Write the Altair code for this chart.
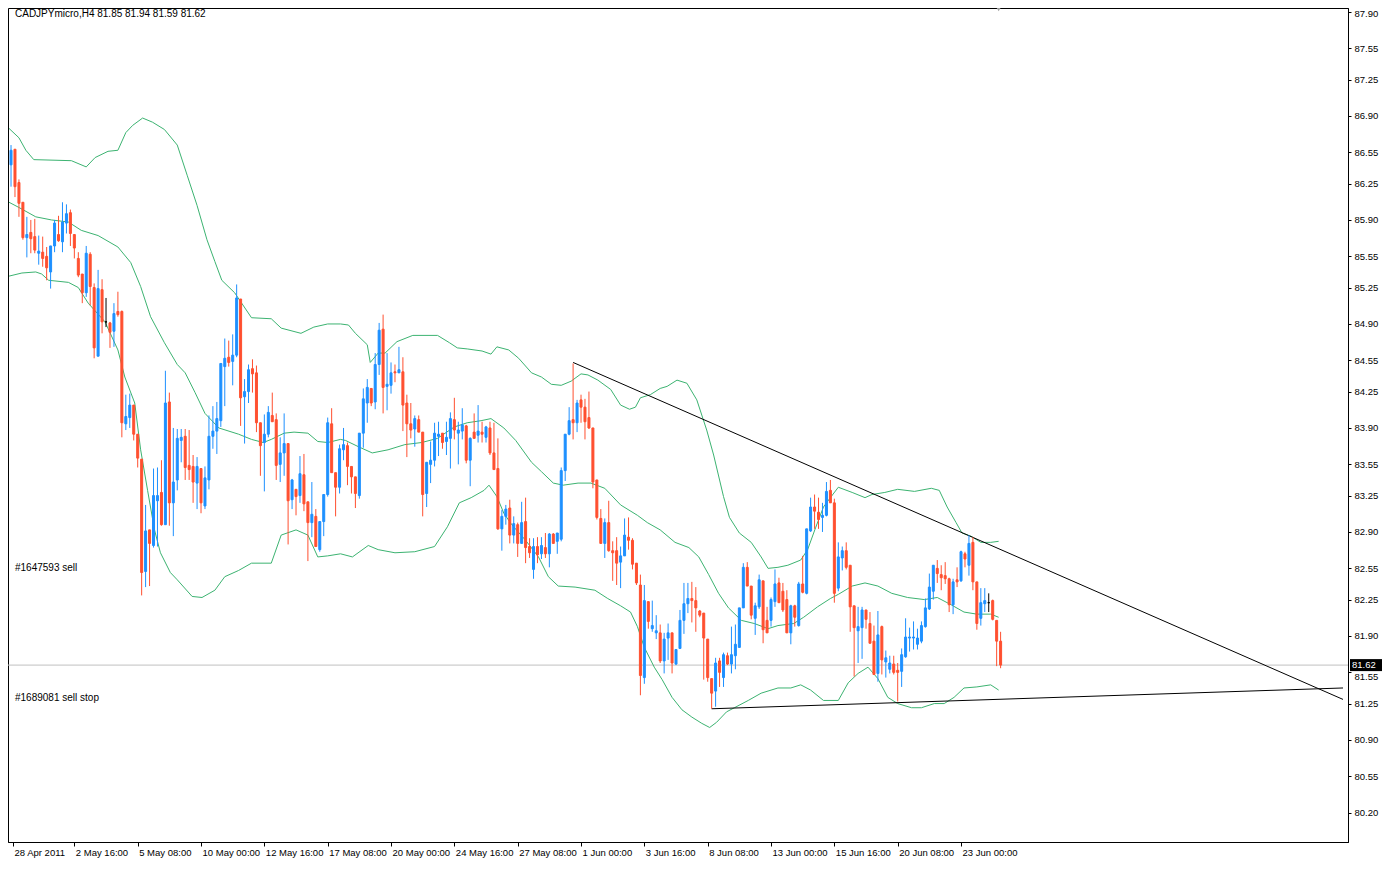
import altair as alt
import pandas as pd

# ---------------- data ----------------
opens = [86.43,86.58,86.26,86.07,85.73,85.78,85.74,85.58,85.59,85.55,
         85.40,85.65,85.76,85.69,85.87,85.97,85.76,85.53,85.38,85.20,
         85.57,85.25,84.59,85.23,84.92,84.91,84.83,85.02,85.02,83.94,
         84.00,84.12,83.84,83.60,82.52,82.92,82.77,83.20,83.28,82.97,
         84.15,83.18,83.40,83.78,83.82,83.54,83.53,83.37,83.51,83.15,
         83.40,83.82,83.87,83.97,84.49,84.58,84.54,84.60,85.14,84.20,
         84.25,84.47,84.43,83.95,83.76,83.84,84.02,83.98,83.55,83.66,
         83.75,83.21,83.31,83.25,83.45,83.19,82.99,83.05,82.73,83.00,
         83.26,83.94,83.47,83.33,83.69,83.73,83.53,83.43,83.25,83.85,
         84.14,84.28,84.15,84.51,84.85,84.30,84.31,84.44,84.43,84.44,
         84.14,83.94,83.89,83.98,83.86,83.27,83.55,83.59,83.82,83.85,
         83.77,83.80,83.98,83.85,83.87,83.92,83.59,83.86,83.83,83.86,
         83.81,83.90,83.66,83.51,82.93,83.05,83.13,82.87,82.97,82.79,
         83.00,82.76,82.54,82.76,82.69,82.75,82.69,82.88,82.81,82.83,
         83.49,83.84,83.98,83.95,84.17,84.10,84.00,83.90,83.40,83.03,
         82.79,82.99,82.72,82.72,82.61,82.67,82.85,82.82,82.60,82.39,
         81.50,82.23,81.97,81.93,81.93,81.66,81.88,81.93,81.63,81.78,
         82.05,82.21,82.26,82.24,82.14,82.12,81.87,81.49,81.37,81.66,
         81.50,81.71,81.63,81.71,81.79,82.17,82.56,82.38,82.07,82.18,
         82.43,82.05,82.05,82.23,82.41,82.33,82.25,81.93,82.19,82.00,
         82.40,82.31,82.91,83.14,83.09,83.04,83.06,83.30,83.18,82.36,
         82.65,82.72,82.58,82.19,81.95,81.98,82.15,82.02,81.85,81.54,
         81.99,81.65,81.58,81.63,81.57,81.56,81.70,81.88,81.88,81.82,
         81.85,81.99,82.16,82.33,82.55,82.49,82.48,82.45,82.20,82.44,
         82.43,82.69,82.58,82.80,82.42,82.07,82.21,82.22,82.24,82.05,
         81.85]
highs = [86.62,86.58,86.29,86.07,85.93,85.90,85.91,85.75,85.74,85.64,
         85.65,85.90,85.94,86.07,86.05,86.00,85.76,85.59,85.38,85.65,
         85.59,85.29,85.42,85.33,85.15,84.92,85.10,85.21,85.03,84.22,
         84.23,84.12,83.84,83.60,83.16,82.92,83.51,83.52,83.59,84.45,
         84.24,83.90,83.89,83.89,83.89,83.88,83.64,83.62,83.51,83.53,
         84.02,84.11,84.15,84.52,84.76,84.74,84.80,85.28,85.14,84.37,
         84.51,84.56,84.50,83.95,84.03,84.11,84.24,84.04,83.81,84.04,
         83.75,83.41,83.31,83.63,83.65,83.19,83.38,83.12,83.00,83.26,
         84.00,84.09,83.47,83.74,83.90,83.76,83.53,83.43,83.85,84.28,
         84.37,84.28,84.62,84.91,84.99,84.62,84.53,84.51,84.68,84.58,
         84.22,84.14,84.02,84.02,83.86,83.57,83.77,83.95,83.96,83.85,
         83.96,84.05,84.19,83.96,84.09,83.93,83.81,84.04,84.12,83.96,
         83.92,83.96,83.95,83.80,83.11,83.16,83.21,83.05,82.99,83.19,
         83.23,82.84,82.84,82.85,82.85,82.89,82.89,82.89,82.89,83.52,
         83.84,84.10,84.52,84.17,84.22,84.18,84.25,83.90,83.40,83.12,
         83.03,83.20,82.81,82.85,82.76,83.03,83.04,82.84,82.60,82.49,
         82.39,82.23,82.24,82.10,82.01,81.93,82.02,81.93,81.77,82.15,
         82.41,82.41,82.42,82.37,82.15,82.12,81.87,81.49,81.69,81.69,
         81.74,81.74,81.99,82.01,82.17,82.60,82.61,82.38,82.22,82.49,
         82.43,82.18,82.27,82.54,82.46,82.41,82.34,82.20,82.20,82.42,
         82.67,82.93,83.23,83.26,83.23,83.18,83.38,83.40,83.22,82.80,
         82.76,82.80,82.58,82.19,82.18,82.18,82.15,82.13,82.00,82.14,
         82.00,81.76,81.71,81.71,81.64,81.78,82.07,81.98,82.04,81.97,
         82.04,82.26,82.50,82.58,82.63,82.58,82.61,82.46,82.45,82.56,
         82.72,82.71,82.87,82.85,82.42,82.36,82.36,82.31,82.25,82.05,
         81.94]
lows = [86.22,86.12,85.93,85.71,85.54,85.58,85.58,85.47,85.45,85.32,
        85.24,85.59,85.69,85.59,85.77,85.65,85.53,85.35,85.10,85.16,
        85.08,84.57,84.59,84.81,84.87,84.67,84.68,84.97,83.81,83.88,
        83.90,83.78,83.52,82.29,82.37,82.38,82.75,82.76,82.96,82.97,
        82.96,82.86,83.30,83.57,83.40,83.40,83.18,83.12,83.08,83.12,
        83.31,83.70,83.65,83.91,84.11,84.49,84.31,84.58,83.92,83.75,
        84.14,84.24,83.86,83.44,83.29,83.81,83.96,83.40,83.38,83.44,
        82.78,83.12,83.06,83.18,83.10,82.62,82.85,82.76,82.71,82.86,
        83.24,83.47,83.05,83.27,83.59,83.35,83.27,83.13,83.22,83.71,
        83.95,84.11,84.08,84.41,84.04,84.07,84.23,84.34,84.43,83.87,
        83.62,83.80,83.72,83.86,83.05,83.14,83.37,83.53,83.63,83.70,
        83.64,83.51,83.79,83.55,83.79,83.56,83.34,83.80,83.76,83.76,
        83.76,83.64,83.50,82.92,82.72,82.97,82.79,82.79,82.66,82.79,
        82.60,82.65,82.45,82.60,82.64,82.65,82.56,82.79,82.69,82.81,
        83.39,83.83,83.79,83.86,83.95,83.79,83.89,83.32,83.02,82.79,
        82.65,82.71,82.43,82.39,82.36,82.67,82.73,82.54,82.39,81.33,
        81.44,81.97,81.94,81.87,81.64,81.54,81.67,81.54,81.62,81.78,
        81.92,82.12,82.03,81.94,82.08,81.48,81.46,81.20,81.22,81.41,
        81.41,81.62,81.54,81.58,81.79,82.17,82.38,82.06,81.91,82.16,
        81.83,81.93,81.99,82.18,82.22,82.13,81.93,81.82,81.99,81.99,
        82.31,82.30,82.90,82.93,82.93,82.90,83.05,83.18,82.22,82.33,
        82.53,82.54,81.94,81.51,81.64,81.68,81.97,81.83,81.53,81.46,
        81.53,81.50,81.54,81.53,81.27,81.41,81.69,81.75,81.77,81.77,
        81.83,81.98,82.15,82.25,82.41,82.34,82.40,82.13,82.11,82.37,
        82.42,82.56,82.48,82.34,81.96,82.00,82.13,82.13,82.05,81.61,
        81.59]
closes = [86.57,86.22,86.06,85.73,85.76,85.72,85.61,85.60,85.53,85.44,
          85.65,85.87,85.70,85.88,85.96,85.77,85.63,85.37,85.20,85.58,
          85.26,84.67,85.24,84.92,84.92,84.82,85.00,84.99,83.95,84.01,
          84.12,83.84,83.61,82.51,82.91,82.79,83.25,83.25,82.97,84.14,
          83.18,83.38,83.80,83.81,83.52,83.50,83.38,83.53,83.18,83.42,
          83.82,83.87,83.99,84.52,84.57,84.53,84.60,85.15,84.19,84.25,
          84.46,84.42,83.95,83.73,83.84,84.05,83.96,83.54,83.66,83.75,
          83.20,83.40,83.24,83.46,83.17,82.99,83.07,82.76,83.00,83.26,
          83.95,83.47,83.33,83.70,83.74,83.53,83.43,83.27,83.85,84.18,
          84.29,84.14,84.51,84.84,84.29,84.32,84.43,84.43,84.46,84.12,
          83.94,83.88,83.99,83.86,83.26,83.57,83.59,83.85,83.84,83.76,
          83.81,83.99,83.88,83.88,83.93,83.59,83.80,83.80,83.87,83.84,
          83.91,83.66,83.50,82.93,83.05,83.12,82.87,82.98,82.79,82.99,
          82.75,82.70,82.76,82.68,82.77,82.69,82.88,82.79,82.89,83.49,
          83.84,83.97,83.95,84.14,84.10,83.96,83.90,83.38,83.04,82.79,
          82.99,82.72,82.70,82.60,82.67,82.87,82.82,82.59,82.41,81.52,
          82.24,82.04,82.00,81.95,81.66,81.87,81.93,81.64,81.77,82.05,
          82.21,82.26,82.24,82.17,82.10,81.88,81.50,81.35,81.64,81.55,
          81.72,81.63,81.72,81.82,82.17,82.56,82.38,82.10,82.19,82.44,
          81.96,81.93,82.25,82.40,82.22,82.15,81.93,82.19,82.08,82.40,
          82.32,82.93,83.14,83.10,83.02,83.06,83.29,83.18,82.31,82.66,
          82.72,82.56,82.18,81.98,81.99,82.15,82.06,81.83,81.53,81.91,
          81.67,81.69,81.64,81.55,81.55,81.72,81.89,81.89,81.89,81.88,
          82.00,82.17,82.37,82.58,82.50,82.46,82.45,82.20,82.42,82.42,
          82.71,82.64,82.79,82.42,82.02,82.22,82.24,82.22,82.06,81.85,
          81.62]

upper_band = [(-0.5,86.78),(2,86.69),(3.75,86.57),(5.75,86.48),(15.25,86.47),(19,86.41),
              (21.25,86.50),(24.5,86.56),(27,86.57),(29,86.74),(30.75,86.81),(33.25,86.88),
              (35.75,86.84),(38.75,86.77),(42,86.62),(44.5,86.33),(47,86.04),(49.5,85.71),
              (51.5,85.50),(53.25,85.32),(56.5,85.20),(60.75,84.96),(65.75,84.95),(68.25,84.86),
              (73.25,84.81),(76.5,84.87),(80,84.90),(83.25,84.90),(85.25,84.89),(87,84.81),
              (90,84.70),(90.75,84.53),(92.75,84.62),(94.5,84.62),(97.5,84.73),(101.5,84.79),
              (107.75,84.79),(110.75,84.72),(112.75,84.67),(115.25,84.66),(119,84.64),
              (121.25,84.61),(122.75,84.68),(125.75,84.65),(128.25,84.57),(131.5,84.43),
              (134,84.39),(136.5,84.32),(139,84.31),(141.5,84.35),(144,84.42),(145.75,84.41),
              (148.25,84.36),(151.5,84.27),(154,84.12),(156.25,84.08),(157.75,84.10),
              (159,84.19),(161.5,84.22),(164,84.28),(165.75,84.30),(168.25,84.36),
              (170.75,84.33),(173.25,84.17),(175.75,83.88),(177.5,83.64),(180,83.24),
              (181.5,83.04),(184,82.89),(187,82.80),(189.5,82.66),(191.25,82.55),
              (193.75,82.56),(196.25,82.58),(199.5,82.63),(201.25,82.73),(203.25,82.94),
              (205.25,83.14),(207,83.23),(209,83.33),(212.5,83.28),(215.75,83.23),
              (217.5,83.26),(220.75,83.28),(224,83.31),(228.25,83.29),(232.5,83.32),
              (234.5,83.30),(236.5,83.14),(238.75,82.99),(240.25,82.89),(242.5,82.86),
              (245,82.80),(247.5,82.80),(249.5,82.81)]
middle_band = [(-0.5,86.07),(2,86.02),(6.25,85.93),(10.25,85.90),(14.5,85.88),(17.75,85.80),
               (22,85.75),(27,85.64),(30.25,85.49),(32.75,85.26),(35.25,84.97),(38.75,84.72),
               (42,84.51),(44,84.43),(46.5,84.24),(49,84.04),(52.5,83.90),(57.5,83.84),
               (60.75,83.79),(63.75,83.76),(65.75,83.79),(69,83.85),(71.5,83.86),(75,83.85),
               (77.5,83.77),(80,83.76),(83.25,83.79),(84.5,83.78),(87.75,83.72),(91.25,83.66),
               (95.25,83.69),(99.5,83.74),(103.75,83.76),(107.75,83.80),(112,83.91),
               (115.25,83.95),(118.75,83.97),(121.25,83.99),(124.5,83.90),(127.5,83.78),
               (131.5,83.57),(134,83.48),(137,83.37),(139.5,83.35),(143.25,83.37),
               (146.5,83.37),(150,83.32),(154,83.16),(158.25,83.06),(160.75,82.99),
               (164,82.92),(167.75,82.80),(171.25,82.75),(173.75,82.66),(176.25,82.49),
               (178.75,82.31),(181.25,82.17),(184.5,82.05),(187.75,82.02),(191.25,81.97),
               (193.75,82.00),(197.75,82.02),(200.25,82.08),(203.75,82.18),(207,82.26),
               (209,82.30),(212.5,82.38),(215.75,82.41),(219,82.38),(222.5,82.31),
               (226.5,82.27),(230.75,82.25),(234,82.27),(237.5,82.20),(240.75,82.13),
               (244,82.11),(247.5,82.11),(249.5,82.08)]
lower_band = [(-0.5,85.36),(2.75,85.39),(6.25,85.40),(7.75,85.38),(9.5,85.32),(14.5,85.30),
              (17,85.25),(19.5,85.10),(23.75,84.92),(27,84.65),(28.75,84.39),(31.25,84.14),
              (32.75,83.69),(34.5,83.30),(36.25,82.92),(37.75,82.70),(40.25,82.51),(42,82.44),
              (45.75,82.28),(48.25,82.27),(51.5,82.34),(54,82.47),(57.5,82.53),(60.75,82.60),
              (65.75,82.60),(68.25,82.87),(72,82.92),(75,82.87),(77.5,82.66),(80,82.67),
              (83.25,82.69),(86.25,82.66),(90.25,82.77),(92.75,82.73),(97,82.70),(102,82.71),
              (107,82.76),(110.25,82.95),(113.25,83.18),(116.25,83.23),(119.5,83.30),
              (120.75,83.35),(122.75,83.24),(124.5,83.08),(126.5,82.97),(130,82.82),
              (133.25,82.66),(135.75,82.47),(138.25,82.38),(142.5,82.37),(147.5,82.34),
              (150.75,82.26),(154,82.19),(156.5,82.13),(158.25,81.99),(160,81.79),
              (162.5,81.60),(164.5,81.48),(167,81.31),(169.5,81.19),(172,81.12),
              (174.5,81.06),(176.5,81.02),(178.25,81.07),(180.75,81.17),(182.75,81.21),
              (186.25,81.28),(189.5,81.35),(193.75,81.40),(197,81.40),(199.5,81.43),
              (202,81.38),(205.25,81.28),(209,81.28),(211.5,81.45),(214,81.54),
              (216.5,81.60),(219,81.49),(221.5,81.31),(224,81.25),(227.5,81.21),
              (230,81.21),(233.25,81.25),(235.75,81.25),(238.25,81.31),(240.75,81.40),
              (244,81.41),(247.5,81.43),(249.5,81.38)]

trend_down = [(142, 84.53), (336.5, 81.29)]
trend_up = [(177, 81.20), (336.5, 81.40)]
bid_price = 81.62

date_ticks = [0.5, 16, 32, 48, 64, 80, 96, 112, 128, 144, 160, 176, 192, 208, 224, 240]
date_labels = ["28 Apr 2011", "2 May 16:00", "5 May 08:00", "10 May 00:00", "12 May 16:00",
               "17 May 08:00", "20 May 00:00", "24 May 16:00", "27 May 08:00", "1 Jun 00:00",
               "3 Jun 16:00", "8 Jun 08:00", "13 Jun 00:00", "15 Jun 16:00", "20 Jun 08:00",
               "23 Jun 00:00"]
price_ticks = [87.90, 87.55, 87.25, 86.90, 86.55, 86.25, 85.90, 85.55, 85.25, 84.90, 84.55,
               84.25, 83.90, 83.55, 83.25, 82.90, 82.55, 82.25, 81.90, 81.55, 81.25, 80.90,
               80.55, 80.20, 79.85]

title_text = "CADJPYmicro,H4  81.85 81.94 81.59 81.62"
order_labels = [("#1647593 sell", 82.55), ("#1689081 sell stop", 81.30)]

# ---------------- chart ----------------
W, H = 1340, 834
FONT = "Liberation Sans"
UP, DOWN = "#1E90FF", "#FF5030"
GREEN = "#3CB371"

xs = alt.Scale(domain=[0.5, 336.5], nice=False, zero=False)
ys = alt.Scale(domain=[79.919, 87.938], nice=False, zero=False)

label_arr = "[" + ",".join("'%s'" % s for s in date_labels) + "]"
x_axis = alt.Axis(values=date_ticks, labelExpr=label_arr + "[round(datum.value/16)]",
                  labelAlign="left", labelOffset=1, tickSize=4, labelPadding=1, title=None,
                  grid=False, labelOverlap=False, labelFlush=False, domainColor="black",
                  tickColor="black", labelColor="black", labelFont=FONT, labelFontSize=9.5,
                  labelBaseline="top")
y_axis = alt.Axis(orient="right", values=price_ticks, format=".2f", title=None, grid=False,
                  tickSize=3, labelPadding=3, domainColor="black", tickColor="black",
                  labelColor="black", labelFont=FONT, labelFontSize=9.5,
                  labelOffset={"condition": [
                      {"test": "datum.value > 87.8", "value": 2},
                      {"test": "abs(datum.value - 81.55) < 0.01", "value": 4}],
                      "value": 0})


def X(field):
    return alt.X(field, type="quantitative", scale=xs, axis=x_axis)


def Y(field):
    return alt.Y(field, type="quantitative", scale=ys, axis=y_axis)


df = pd.DataFrame({"i": list(range(len(opens))), "o": opens, "h": highs, "l": lows, "c": closes})
df["dir"] = ["up" if c > o else ("down" if c < o else "doji") for o, c in zip(df["o"], df["c"])]
cscale = alt.Scale(domain=["up", "down", "doji"], range=[UP, DOWN, "black"])

wicks = alt.Chart(df).mark_rule(strokeWidth=1).encode(
    x=X("i"), y=Y("l"), y2="h",
    color=alt.Color("dir:N", scale=cscale, legend=None))
bodies = alt.Chart(df).mark_bar(size=2, strokeWidth=1).encode(
    x=X("i"), y=Y("o"), y2="c",
    fill=alt.Fill("dir:N", scale=cscale, legend=None),
    stroke=alt.Stroke("dir:N", scale=cscale, legend=None))

band_rows = []
for name, pts in (("upper", upper_band), ("middle", middle_band), ("lower", lower_band)):
    for k, (i, p) in enumerate(pts):
        band_rows.append({"band": name, "i": i, "p": p, "k": k})
bands = alt.Chart(pd.DataFrame(band_rows)).mark_line(color=GREEN, strokeWidth=1).encode(
    x=X("i"), y=Y("p"), detail="band:N", order="k:Q")

tl_rows = []
for name, pts in (("down", trend_down), ("up", trend_up)):
    for k, (i, p) in enumerate(pts):
        tl_rows.append({"line": name, "i": i, "p": p, "k": k})
trend = alt.Chart(pd.DataFrame(tl_rows)).mark_line(color="black", strokeWidth=1).encode(
    x=X("i"), y=Y("p"), detail="line:N", order="k:Q")

bid_df = pd.DataFrame({"p": [bid_price], "t": ["%.2f" % bid_price]})
bid_line = alt.Chart(bid_df).mark_rule(color="#C0C0C0", strokeWidth=1).encode(y=Y("p"))
bid_tag = alt.Chart(bid_df).mark_rule(color="black", strokeWidth=12, strokeCap="butt").encode(
    y=Y("p"), x=alt.value(W + 2), x2=alt.value(W + 34))
bid_txt = alt.Chart(bid_df).mark_text(color="white", align="left", baseline="middle",
                                      font=FONT, fontSize=9.5).encode(
    y=Y("p"), x=alt.value(W + 4), text="t:N")

ord_df = pd.DataFrame({"t": [o[0] for o in order_labels], "p": [o[1] for o in order_labels],
                       "i": [0.5] * len(order_labels)})
ord_txt = alt.Chart(ord_df).mark_text(align="left", baseline="middle", dx=2, font=FONT,
                                      fontSize=10, color="black").encode(
    x=X("i"), y=Y("p"), text="t:N")

title_df = pd.DataFrame({"t": [title_text], "i": [0.5], "p": [87.938]})
title_txt = alt.Chart(title_df).mark_text(align="left", baseline="top", dx=2, dy=1, font=FONT,
                                          fontSize=10, color="black").encode(
    x=X("i"), y=Y("p"), text="t:N")

marker_df = pd.DataFrame({"i": [249.5], "p": [87.938]})
marker = alt.Chart(marker_df).mark_point(shape="triangle-down", filled=True, color="#A0A0A0",
                                         size=60, opacity=1).encode(x=X("i"), y=Y("p"))

chart = alt.layer(bid_line, bands, trend, wicks, bodies, ord_txt, title_txt, marker,
                  bid_tag, bid_txt).properties(
    width=W, height=H,
    autosize=alt.AutoSizeParams(type="none"),
    padding={"left": 0, "top": 0, "right": 38, "bottom": 16},
    background="white",
).configure_view(stroke="black", strokeWidth=1)

chart.save("out.html", embed_options={"renderer": "svg", "actions": False})
